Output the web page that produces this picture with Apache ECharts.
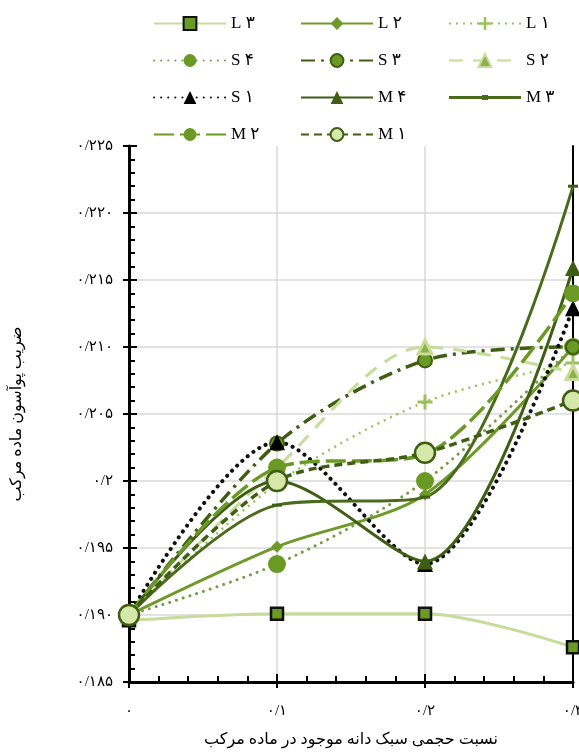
<!DOCTYPE html>
<html>
<head>
<meta charset="utf-8">
<script src="https://cdn.jsdelivr.net/npm/echarts@6/dist/echarts.min.js"></script>
<style>
  html, body { margin: 0; padding: 0; background: #fff; }
  #main { width: 579px; height: 753px; }
</style>
</head>
<body>
<div id="main"></div>
<script>
// x values (volume fraction of lightweight aggregate)
const xValues = [0, 0.1, 0.2, 0.3]

// Poisson ratio for each mix
const L3 = [0.1896, 0.1901, 0.1901, 0.1876]
const L2 = [0.190, 0.1951, 0.1990, 0.2100]
const L1 = [0.190, 0.1998, 0.2059, 0.2088]
const S4 = [0.190, 0.1938, 0.2000, 0.2100]
const S3 = [0.190, 0.2028, 0.2090, 0.2100]
const S2 = [0.190, 0.2010, 0.2100, 0.2081]
const S1 = [0.190, 0.2029, 0.1938, 0.2129]
const M4 = [0.190, 0.2000, 0.1940, 0.2159]
const M3 = [0.190, 0.1982, 0.1988, 0.2220]
const M2 = [0.190, 0.2010, 0.2020, 0.2140]
const M1 = [0.190, 0.2000, 0.2021, 0.2060]

// tick labels (Persian digits)
const xTickLabels = ['۰', '۰/۱', '۰/۲', '۰/۳']
const yTickLabels = ['۰/۱۸۵', '۰/۱۹۰', '۰/۱۹۵', '۰/۲', '۰/۲۰۵', '۰/۲۱۰', '۰/۲۱۵', '۰/۲۲۰', '۰/۲۲۵']

const xName = 'نسبت حجمی سبک دانه موجود در ماده مرکب'
const yName = 'ضریب پوآسون ماده مرکب'

const FONT = "'Liberation Serif', 'DejaVu Sans'"
const light = '#c6dc9b'
const mid = '#6a9a23'
const dark = '#3f5e14'

const plusPath = 'path://M4,0 L6,0 L6,4 L10,4 L10,6 L6,6 L6,10 L4,10 L4,6 L0,6 L0,4 L4,4 Z'
const dashPath = 'path://M0,0 L10,0 L10,3 L0,3 Z'
// legend icon for M3: plain line with a tiny tick in the middle
const m3LegendIcon = 'path://M0,1 L33,1 L33,0 L39,0 L39,1 L72,1 L72,4 L39,4 L39,5 L33,5 L33,4 L0,4 Z'

function pts(arr) {
    return arr.map((v, i) => [xValues[i], v])
}

function line(name, arr, lineStyle, symbol, symbolSize, itemStyle) {
    return {
        name: name,
        type: 'line',
        data: pts(arr),
        smooth: 0.3,
        symbol: symbol,
        symbolSize: symbolSize,
        symbolKeepAspect: true,
        showAllSymbol: true,
        lineStyle: lineStyle,
        itemStyle: itemStyle,
        emphasis: { disabled: true },
        animation: false,
    }
}

const series = [
    line('L ۳', L3, { color: light, width: 3 }, 'rect', 12, { color: mid, borderColor: '#111', borderWidth: 2.5 }),
    line('L ۲', L2, { color: '#6f9a2a', width: 3 }, 'diamond', 12, { color: '#6f9a2a' }),
    line('L ۱', L1, { color: '#9cc05a', width: 2.5, type: [2, 5] }, plusPath, 15, { color: '#9cc05a' }),
    line('S ۴', S4, { color: '#7a9a48', width: 3, type: [0.1, 7], cap: 'round' }, 'circle', 18, { color: mid }),
    line('S ۳', S3, { color: dark, width: 3.5, type: [14, 6, 3, 6] }, 'circle', 14, { color: mid, borderColor: dark, borderWidth: 2 }),
    line('S ۲', S2, { color: light, width: 3, type: [14, 10] }, 'triangle', 14, { color: '#8fb04a', borderColor: light, borderWidth: 3 }),
    line('S ۱', S1, { color: '#111', width: 4, type: [0.1, 7], cap: 'round' }, 'triangle', 16, { color: '#000' }),
    line('M ۴', M4, { color: dark, width: 3 }, 'triangle', 16, { color: dark }),
    line('M ۳', M3, { color: '#4a6a1c', width: 3 }, dashPath, 10, { color: dark }),
    line('M ۲', M2, { color: mid, width: 3.5, type: [20, 6] }, 'circle', 18, { color: mid }),
    line('M ۱', M1, { color: dark, width: 3.5, type: [8, 5] }, 'circle', 20, { color: '#d5e8a9', borderColor: dark, borderWidth: 2.5 }),
]

function legendCol(left, names) {
    return {
        left: left,
        top: 10,
        orient: 'vertical',
        data: names,
        itemWidth: 72,
        itemHeight: 16,
        itemGap: 20,
        symbolKeepAspect: true,
        selectedMode: false,
        textStyle: { fontFamily: FONT, fontSize: 17, color: '#000' },
    }
}

const axisBlack = { color: '#000', width: 2 }

let myChart = echarts.init(document.getElementById('main'))
let option = {
    backgroundColor: '#fff',
    animation: false,
    legend: [
        legendCol(148, ['L ۳', 'S ۴', 'S ۱', 'M ۲']),
        legendCol(295, ['L ۲', 'S ۳', 'M ۴', 'M ۱']),
        legendCol(443, ['L ۱', 'S ۲', { name: 'M ۳', icon: m3LegendIcon, itemStyle: { color: '#4a6a1c' } }]),
    ],
    grid: {
        left: 129,
        right: 6,
        top: 146,
        bottom: 71,
        containLabel: false,
        outerBoundsMode: 'none',
    },
    xAxis: [
        {
            type: 'value',
            min: 0,
            max: 0.3,
            interval: 0.1,
            name: xName,
            nameLocation: 'middle',
            nameGap: 50,
            nameTextStyle: { fontFamily: FONT, fontSize: 16, color: '#000' },
            axisLine: { lineStyle: { color: '#000', width: 3 } },
            axisTick: { inside: true, length: 8, lineStyle: axisBlack },
            minorTick: { show: true, splitNumber: 5, length: 6, lineStyle: axisBlack },
            axisLabel: {
                margin: 22,
                fontFamily: FONT,
                fontSize: 15,
                color: '#000',
                formatter(v) {
                    return xTickLabels[Math.round(v / 0.1)]
                },
            },
            splitLine: { show: true, lineStyle: { color: '#d9d9d9', width: 1.5 } },
        },
        {
            type: 'value',
            min: 0,
            max: 0.3,
            interval: 0.1,
            position: 'bottom',
            axisLine: { show: false },
            axisTick: { inside: false, length: 6, lineStyle: axisBlack },
            axisLabel: { show: false },
            splitLine: { show: false },
        },
    ],
    yAxis: [
        {
            type: 'value',
            min: 0.185,
            max: 0.225,
            interval: 0.005,
            name: yName,
            nameLocation: 'middle',
            nameGap: 104,
            nameRotate: 90,
            nameTextStyle: { fontFamily: FONT, fontSize: 16, color: '#000' },
            axisLine: { lineStyle: { color: '#000', width: 3 } },
            axisTick: { inside: true, length: 8, lineStyle: axisBlack },
            minorTick: { show: true, splitNumber: 5, length: 6, lineStyle: axisBlack },
            axisLabel: {
                margin: 16,
                fontFamily: FONT,
                fontSize: 15,
                color: '#000',
                formatter(v) {
                    return yTickLabels[Math.round((v - 0.185) / 0.005)]
                },
            },
            splitLine: { show: true, showMaxLine: false, lineStyle: { color: '#d9d9d9', width: 1.5 } },
        },
        {
            type: 'value',
            min: 0.185,
            max: 0.225,
            interval: 0.005,
            position: 'left',
            axisLine: { show: false },
            axisTick: { inside: false, length: 6, lineStyle: axisBlack },
            axisLabel: { show: false },
            splitLine: { show: false },
        },
        {
            type: 'value',
            min: 0.185,
            max: 0.225,
            position: 'right',
            axisLine: { show: true, lineStyle: { color: '#000', width: 2 } },
            axisTick: { show: false },
            axisLabel: { show: false },
            splitLine: { show: false },
        },
    ],
    series: series,
}
myChart.setOption(option)
</script>
</body>
</html>
